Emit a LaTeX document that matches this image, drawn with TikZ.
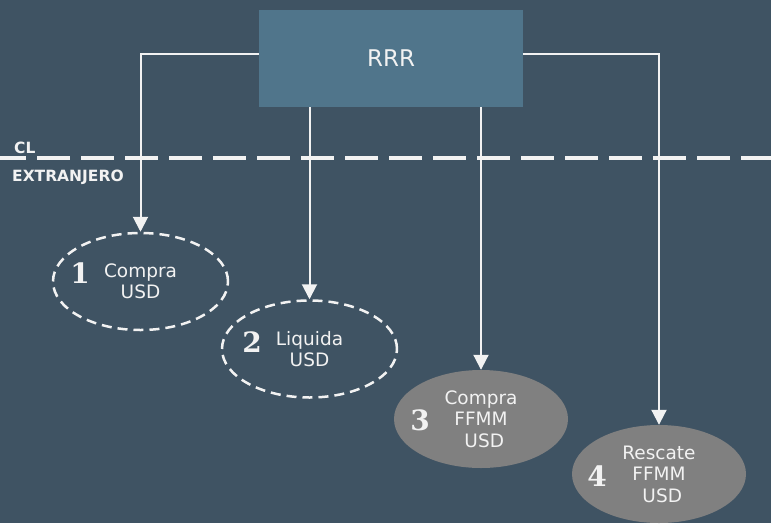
\documentclass[tikz,border=0pt]{standalone}
\usepackage{fontspec}
\setmainfont{DejaVu Sans}
\usepackage{xcolor}
\usepackage{tikz}
\usetikzlibrary{arrows.meta, positioning, shapes}

\definecolor{bgslate}{HTML}{3F5363}
\definecolor{boxblue}{HTML}{50758B}
\definecolor{fundgray}{HTML}{808080}
\definecolor{linewhite}{HTML}{F2F2F2}

\begin{document}
\begin{tikzpicture}[x=1pt, y=-1pt, font=\fontsize{18.5}{21.5}\selectfont, text=linewhite]
		\tikzstyle{rrr} = [fill=boxblue, rectangle, minimum width=264pt, minimum height=97pt, inner sep=0pt, font=\fontsize{23}{27}\selectfont]
		\tikzstyle{open} = [draw=linewhite, ellipse, line width=2.5pt, dash pattern=on 10pt off 6pt, minimum width=175pt, minimum height=97pt, inner sep=0pt, align=center]
		\tikzstyle{fund} = [fill=fundgray, ellipse, minimum width=174pt, minimum height=98pt, inner sep=0pt, align=center]
		\tikzstyle{num} = [font=\fontspec{DejaVu Serif}\bfseries\fontsize{28}{28}\selectfont]
		\tikzstyle{zone} = [font=\bfseries\fontsize{15.5}{17}\selectfont, anchor=west, inner sep=0pt]
		\tikzstyle{arrow} = [draw=linewhite, line width=2pt, -{Triangle[width=15pt,length=15pt]}]
		
		\fill[bgslate] (0, 0) rectangle (771, 523);
		\useasboundingbox (0, 0) rectangle (771, 523);
		
		\node[rrr]	at (391, 58.5)	(q0)	{RRR};
		
		\coordinate	(w0)	at (0, 158);
		\coordinate	(w1)	at (771, 158);
		\draw[draw=linewhite, line width=3.5pt, dash pattern=on 33pt off 11pt, dash phase=7pt] (w0) -- (w1);
		\node[zone]	at (14, 148)	(cl)	{CL};
		\node[zone]	at (12, 177)	(ext)	{EXTRANJERO};
		
		\node[open]	at (140.5, 281.5)	(e1)	{Compra\\USD};
		\node[open]	at (309.5, 349)		(e2)	{Liquida\\USD};
		\node[fund]	at (481, 419)		(e3)	{Compra\\FFMM\\\hspace*{0.35em}USD};
		\node[fund]	at (659, 474)		(e4)	{Rescate\\FFMM\\\hspace*{0.35em}USD};
		
		\node[num]	at (80, 273)	(n1)	{1};
		\node[num]	at (252, 342)	(n2)	{2};
		\node[num]	at (420, 420)	(n3)	{3};
		\node[num]	at (597, 476)	(n4)	{4};
		
		\draw [arrow] (q0.west |- 0, 54) -| (e1.north);
		\draw [arrow] (q0.east |- 0, 54) -| (e4.north);
		\draw [arrow] (q0.south -| e2.north) -- (e2.north);
		\draw [arrow] (q0.south -| e3.north) -- (e3.north);
	\end{tikzpicture}
\end{document}
